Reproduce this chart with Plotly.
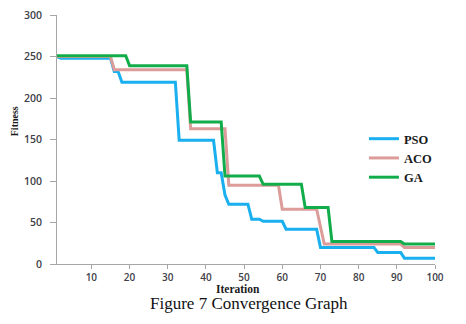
import plotly.graph_objects as go

# Best-fitness breakpoints per algorithm (iteration, fitness); lines join consecutive points
pso_iter = [1, 2, 15, 16, 17, 18, 32, 33, 42, 43, 44, 45, 46, 51, 52, 54, 55, 60, 61, 69, 70, 84, 85, 91, 92, 100]
pso_fit = [250, 248, 248, 232, 232, 219, 219, 149, 149, 110, 110, 83, 72, 72, 54, 54, 51.5, 51.5, 42, 42, 20, 20, 14, 14, 7, 7]

aco_iter = [1, 15, 16, 35, 36, 45, 46, 59, 60, 69, 71, 91, 92, 100]
aco_fit = [250, 250, 234, 234, 163, 163, 95, 95, 66, 66, 24, 24, 20, 20]

ga_iter = [1, 19, 20, 35, 36, 44, 45, 54, 55, 65, 66, 72, 73, 91, 92, 100]
ga_fit = [251, 251, 239, 239, 171, 171, 106, 106, 96, 96, 68, 68, 27, 27, 24, 24]

x_ticks = [10, 20, 30, 40, 50, 60, 70, 80, 90, 100]
y_ticks = [0, 50, 100, 150, 200, 250, 300]

series = [
    ("PSO", pso_iter, pso_fit, "#1AAFEF"),
    ("ACO", aco_iter, aco_fit, "#DC9C99"),
    ("GA", ga_iter, ga_fit, "#12AD4B"),
]

fig = go.Figure()
for name, xs, ys, color in series:
    fig.add_trace(go.Scatter(x=xs, y=ys, mode="lines", name=name,
                             line=dict(color=color, width=3)))

serif = "Liberation Serif"

fig.update_layout(
    width=466, height=324,
    margin=dict(l=57, r=31, t=8, b=60),
    paper_bgcolor="white", plot_bgcolor="white",
    showlegend=True,
    legend=dict(x=0.812, y=0.562, xanchor="left", yanchor="top",
                bgcolor="rgba(0,0,0,0)", itemwidth=30,
                font=dict(family=serif, size=12.5, color="#1a1a1a", weight="bold")),
    xaxis=dict(range=[1, 100], tickvals=x_ticks, showgrid=False, zeroline=False,
               showline=True, linecolor="#A6A6A6", linewidth=1,
               ticks="outside", ticklen=4, tickcolor="#A6A6A6",
               tickfont=dict(family="Open Sans", size=10, color="#404048", weight=600)),
    yaxis=dict(range=[0, 300], tickvals=y_ticks, showgrid=False, zeroline=False,
               showline=True, linecolor="#A6A6A6", linewidth=1,
               ticks="outside", ticklen=6, tickcolor="#A6A6A6",
               ticklabelstandoff=6,
               tickfont=dict(family="Open Sans", size=10.5, color="#404048", weight=600)),
    annotations=[
        dict(text="Iteration", xref="paper", yref="paper", x=0.479, y=-0.1,
             showarrow=False, xanchor="center", yanchor="middle",
             font=dict(family=serif, size=11.5, color="#1a1a1a", weight="bold")),
        dict(text="Fitness", xref="paper", yref="paper", x=-0.112, y=0.572,
             showarrow=False, xanchor="center", yanchor="middle", textangle=-90,
             font=dict(family=serif, size=10, color="#1a1a1a", weight="bold")),
        dict(text="Figure 7 Convergence Graph", xref="paper", yref="paper",
             x=0.508, y=-0.158, showarrow=False, xanchor="center", yanchor="middle",
             font=dict(family=serif, size=17, color="#111111")),
    ],
)

fig.write_html("out.html")
